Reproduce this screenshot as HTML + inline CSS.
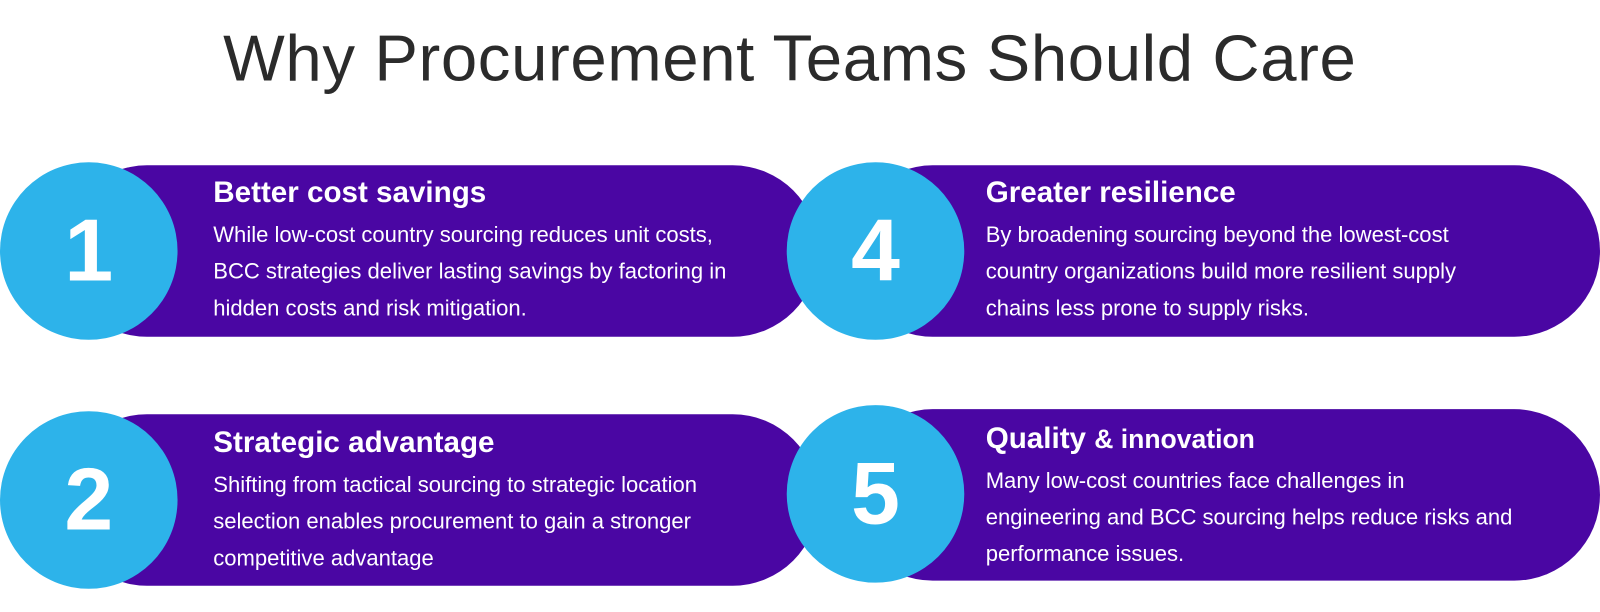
<!DOCTYPE html>
<html><head><style>
body{margin:0;width:1600px;height:612px;background:#fff;position:relative;overflow:hidden;font-family:"Liberation Sans",sans-serif}
#w{position:absolute;left:0;top:0;width:1568px;height:600px;transform:scale(1.0204);transform-origin:0 0}
.t{position:absolute;left:0;width:1548px;text-align:center;top:20px;font-size:64px;color:#2b2b2b;letter-spacing:0.6px}
.p{position:absolute;background:#4a06a3;border-radius:85px;height:168px}
.c{position:absolute;background:#2db3ea;border-radius:50%;width:174px;height:174px;color:#fff;font-weight:bold;font-size:86px;display:flex;align-items:center;justify-content:center}
.x{position:absolute;color:#fff}
.x h{display:block;font-weight:bold;font-size:29px;line-height:34px;margin-bottom:6px;white-space:nowrap}
.x div{font-size:21.6px;line-height:36px;white-space:nowrap}
</style></head><body><div id="w">
<div class="t">Why Procurement Teams Should Care</div>

<div class="p" style="left:60px;top:162px;width:742px"></div>
<div class="p" style="left:60px;top:406px;width:742px"></div>
<div class="p" style="left:830px;top:162px;width:738px"></div>
<div class="p" style="left:830px;top:401px;width:738px"></div>

<div class="c" style="left:0;top:159px">1</div>
<div class="c" style="left:0;top:403px">2</div>
<div class="c" style="left:771px;top:159px">4</div>
<div class="c" style="left:771px;top:397px">5</div>

<div class="x" style="left:209px;top:172px"><h>Better cost savings</h><div>While low-cost country sourcing reduces unit costs,<br>BCC strategies deliver lasting savings by factoring in<br>hidden costs and risk mitigation.</div></div>
<div class="x" style="left:209px;top:417px"><h>Strategic advantage</h><div>Shifting from tactical sourcing to strategic location<br>selection enables procurement to gain a stronger<br>competitive advantage</div></div>
<div class="x" style="left:966px;top:172px"><h>Greater resilience</h><div>By broadening sourcing beyond the lowest-cost<br>country organizations build more resilient supply<br>chains less prone to supply risks.</div></div>
<div class="x" style="left:966px;top:413px"><h>Quality <span style="font-size:26px">&amp; innovation</span></h><div>Many low-cost countries face challenges in<br>engineering and BCC sourcing helps reduce risks and<br>performance issues.</div></div>
</div></body></html>
